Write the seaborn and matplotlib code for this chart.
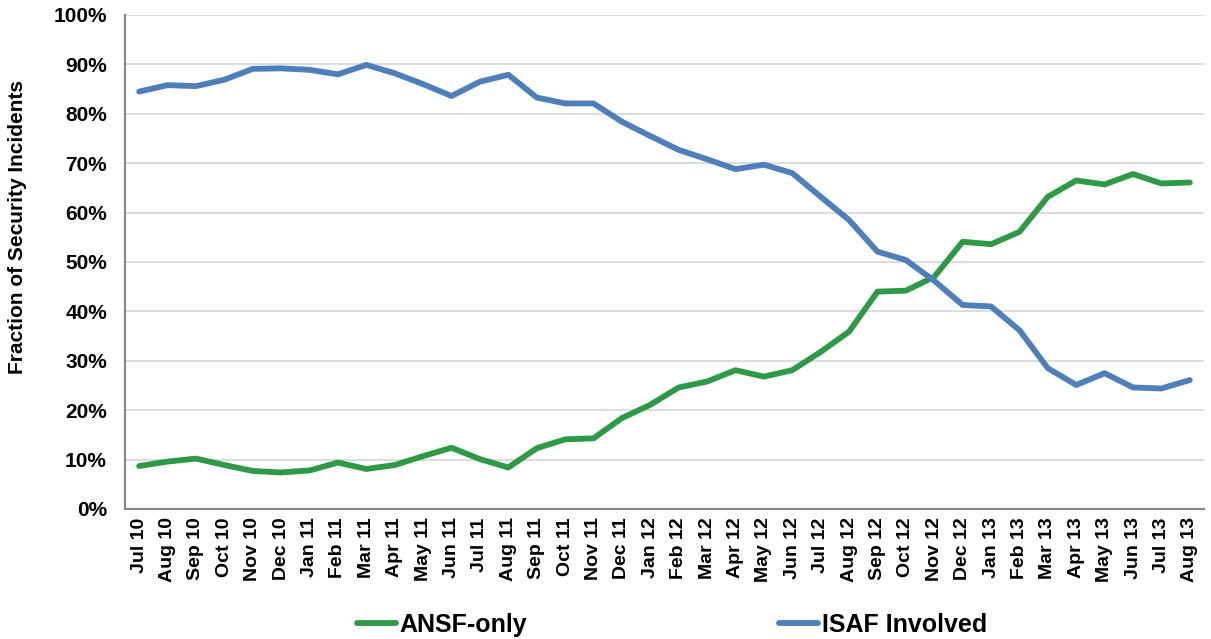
import matplotlib
matplotlib.use("Agg")
import matplotlib.pyplot as plt
import seaborn as sns
import pandas as pd
from matplotlib.ticker import FixedLocator, PercentFormatter

months = ["Jul 10", "Aug 10", "Sep 10", "Oct 10", "Nov 10", "Dec 10", "Jan 11", "Feb 11",
          "Mar 11", "Apr 11", "May 11", "Jun 11", "Jul 11", "Aug 11", "Sep 11", "Oct 11",
          "Nov 11", "Dec 11", "Jan 12", "Feb 12", "Mar 12", "Apr 12", "May 12", "Jun 12",
          "Jul 12", "Aug 12", "Sep 12", "Oct 12", "Nov 12", "Dec 12", "Jan 13", "Feb 13",
          "Mar 13", "Apr 13", "May 13", "Jun 13", "Jul 13", "Aug 13"]

ansf_only = [8.7, 9.6, 10.2, 8.9, 7.7, 7.4, 7.8, 9.4, 8.1, 8.9, 10.7, 12.4, 10.1, 8.4,
             12.3, 14.1, 14.3, 18.4, 21.1, 24.6, 25.8, 28.1, 26.8, 28.1, 31.8, 35.9,
             44.0, 44.2, 47.0, 54.1, 53.6, 56.1, 63.2, 66.5, 65.7, 67.8, 65.9, 66.1]

isaf_involved = [84.5, 85.8, 85.6, 86.9, 89.1, 89.2, 88.9, 88.0, 89.9, 88.2, 86.0, 83.6,
                 86.5, 87.9, 83.3, 82.1, 82.1, 78.4, 75.5, 72.7, 70.8, 68.8, 69.7, 68.0,
                 63.2, 58.5, 52.1, 50.4, 46.2, 41.3, 41.0, 36.2, 28.5, 25.1, 27.5, 24.6,
                 24.4, 26.1]

series_names = ["ANSF-only", "ISAF Involved"]
colors = {"ANSF-only": "#2E9A47", "ISAF Involved": "#4F7FBB"}

df = pd.DataFrame({
    "idx": list(range(len(months))) * 2,
    "value": ansf_only + isaf_involved,
    "series": [series_names[0]] * len(months) + [series_names[1]] * len(months),
})

sns.set_theme(style="white")
plt.rcParams["font.family"] = ["Liberation Sans", "DejaVu Sans"]
plt.rcParams["font.weight"] = "bold"
plt.rcParams["text.color"] = "black"

fig = plt.figure(figsize=(12.11, 6.39), dpi=100)
ax = fig.add_axes([125 / 1211, 1 - 509 / 639, (1204 - 125) / 1211, (509 - 15) / 639])

sns.lineplot(data=df, x="idx", y="value", hue="series", palette=colors,
             linewidth=4.2, ax=ax, legend=True)

ax.set_xlim(-0.5, len(months) - 0.5)
ax.set_ylim(0, 100)
ax.yaxis.set_major_locator(FixedLocator(list(range(0, 101, 10))))
ax.yaxis.set_major_formatter(PercentFormatter(decimals=0))
ax.grid(axis="y", color="#D9D9D9", linewidth=1.3)
ax.grid(axis="x", visible=False)
ax.set_axisbelow(True)

# category labels centered, ticks between categories
ax.set_xticks(range(len(months)))
ax.set_xticklabels(months, rotation=90, fontsize=14, fontweight="bold", color="black")
ax.set_xticks([i - 0.5 for i in range(len(months) + 1)], minor=True)
ax.tick_params(axis="x", which="major", length=0, pad=6)
ax.tick_params(axis="x", which="minor", length=6, width=1.2, color="#868686", direction="out")
ax.tick_params(axis="y", length=6, width=1.2, color="#868686", direction="out",
               labelsize=15, labelcolor="black", pad=7)
for lab in ax.get_yticklabels():
    lab.set_fontweight("bold")

for s in ["top", "right"]:
    ax.spines[s].set_visible(False)
for s in ["left", "bottom"]:
    ax.spines[s].set_color("#868686")
    ax.spines[s].set_linewidth(1.5)

ax.set_xlabel("")
ax.set_ylabel("Fraction of Security Incidents", fontsize=15, fontweight="bold",
              color="black")
ax.yaxis.set_label_coords(-0.0905, 0.571)
ax.yaxis.label.set_horizontalalignment("center")

handles, labels = ax.get_legend_handles_labels()
leg = ax.legend(handles, labels, loc="center", bbox_to_anchor=(0.507, -0.235), ncol=2,
                frameon=False, prop={"weight": "bold", "size": 18}, handlelength=1.55,
                handletextpad=0.15, columnspacing=10.1)
for t in leg.get_texts():
    t.set_color("black")
for h in leg.get_lines():
    h.set_linewidth(4.2)

fig.savefig("out.png", dpi=100)
